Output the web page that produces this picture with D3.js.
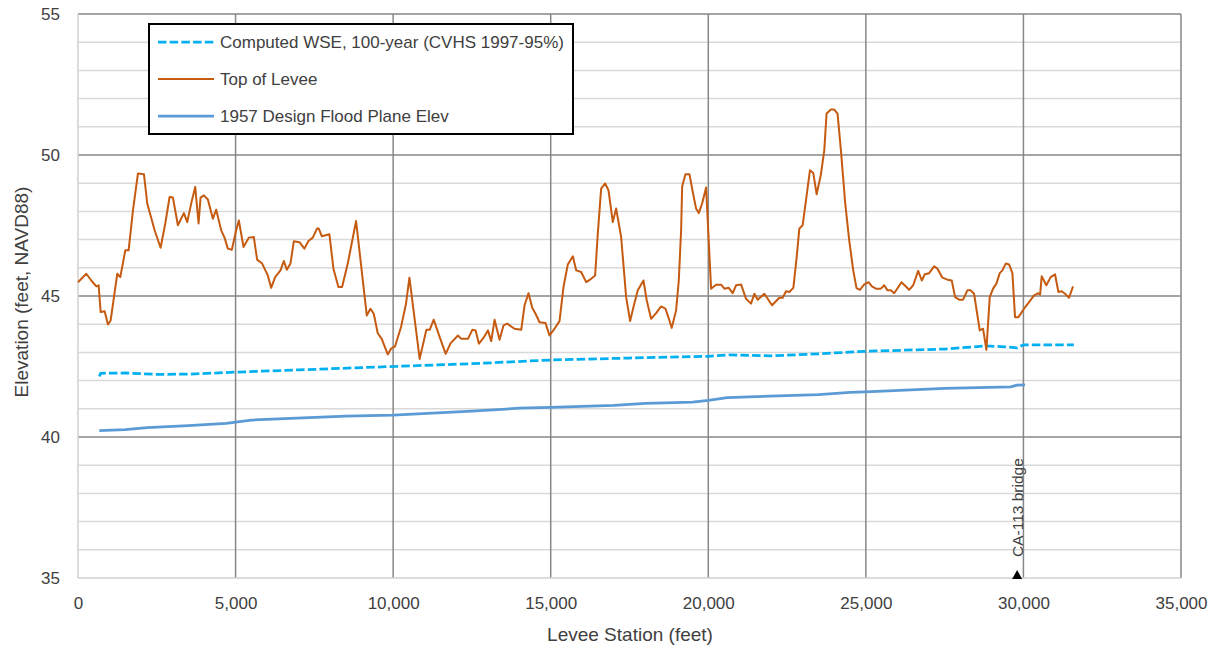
<!DOCTYPE html>
<html><head><meta charset="utf-8">
<script src="https://cdn.jsdelivr.net/npm/d3@7/dist/d3.min.js"></script>
<style>
html,body{margin:0;padding:0;background:#fff;}
svg{display:block;font-family:"Liberation Sans",Arial,sans-serif;}
</style></head>
<body><svg id="c" width="1217" height="649"></svg>
<script>
// ---- data ----
const levStation = [0,264,422,581,655,719,845,951,1035,1247,1342,1501,1606,1744,1902,2092,2198,2431,2621,2769,2906,3012,3170,3360,3466,3614,3720,3826,3889,3994,4121,4280,4385,4544,4650,4755,4882,5018,5104,5251,5421,5579,5684,5843,6023,6129,6256,6425,6531,6626,6742,6848,7027,7185,7312,7449,7586,7640,7735,7978,8105,8264,8380,8560,8824,9163,9279,9385,9511,9638,9828,9934,10060,10250,10409,10516,10842,11054,11160,11287,11477,11667,11825,12057,12163,12374,12512,12617,12722,12870,13007,13113,13219,13377,13504,13620,13853,14065,14170,14297,14413,14519,14645,14835,14962,15121,15279,15406,15543,15702,15808,15966,16125,16283,16410,16494,16600,16727,16833,16970,17077,17235,17394,17520,17626,17763,17943,18048,18186,18345,18503,18640,18767,18841,18979,19064,19138,19171,19275,19402,19508,19614,19698,19804,19931,20089,20248,20406,20512,20649,20776,20881,21040,21198,21357,21462,21568,21779,22023,22256,22361,22467,22572,22699,22805,22889,22994,23100,23227,23332,23438,23575,23681,23754,23891,23997,24102,24208,24346,24472,24599,24704,24811,24948,25085,25191,25318,25476,25582,25688,25794,25899,26131,26375,26502,26660,26776,26871,27008,27166,27272,27430,27589,27726,27832,27959,28085,28222,28328,28434,28614,28719,28825,28931,29037,29142,29248,29333,29439,29544,29650,29734,29840,30020,30178,30337,30473,30530,30580,30727,30865,31003,31109,31215,31320,31447,31574];
const levElev = [45.49,45.79,45.55,45.34,45.38,44.43,44.46,43.99,44.13,45.79,45.67,46.62,46.62,48.04,49.34,49.32,48.28,47.33,46.71,47.57,48.51,48.49,47.51,47.94,47.62,48.39,48.87,47.57,48.49,48.57,48.42,47.74,48.06,47.33,47.07,46.68,46.64,47.33,47.68,46.74,47.07,47.09,46.29,46.15,45.73,45.29,45.67,45.91,46.24,45.93,46.15,46.94,46.91,46.68,46.95,47.07,47.39,47.39,47.12,47.19,45.97,45.32,45.32,46.15,47.66,44.31,44.55,44.37,43.68,43.48,42.93,43.13,43.21,43.90,44.73,45.65,42.77,43.80,43.80,44.16,43.54,42.95,43.33,43.60,43.48,43.48,43.80,43.78,43.31,43.52,43.78,43.40,44.16,43.45,43.96,44.02,43.84,43.80,44.67,45.10,44.58,44.37,44.07,44.04,43.60,43.84,44.11,45.32,46.12,46.41,45.91,45.85,45.49,45.61,45.73,47.21,48.81,48.99,48.75,47.62,48.10,47.09,44.96,44.11,44.61,45.20,45.55,44.84,44.19,44.39,44.63,44.55,44.13,43.87,44.49,45.55,47.33,48.89,49.32,49.32,48.69,48.10,47.94,48.28,48.85,45.26,45.40,45.40,45.26,45.29,45.10,45.38,45.41,44.90,44.73,45.08,44.87,45.08,44.67,44.94,44.94,45.17,45.14,45.29,46.38,47.39,47.51,48.39,49.46,49.36,48.61,49.32,50.17,51.47,51.61,51.61,51.47,50.17,48.28,46.97,45.91,45.28,45.22,45.41,45.49,45.34,45.26,45.26,45.38,45.20,45.20,45.10,45.49,45.22,45.38,45.89,45.55,45.77,45.81,46.05,45.97,45.65,45.58,45.55,44.96,44.87,44.87,45.20,45.20,45.08,43.78,43.84,43.09,44.96,45.26,45.44,45.81,45.91,46.15,46.12,45.81,44.25,44.25,44.55,44.78,45.02,45.10,45.05,45.70,45.38,45.67,45.77,45.14,45.17,45.08,44.94,45.34];

const wseStation = [676,720,1500,2500,3500,5000,7000,10000,12500,15000,17500,20000,20600,22000,23500,25000,27500,28800,29400,29800,30000,31600];
const wseElev    = [42.15,42.26,42.27,42.22,42.23,42.30,42.38,42.50,42.60,42.73,42.80,42.86,42.91,42.88,42.95,43.04,43.12,43.23,43.20,43.16,43.27,43.27];

const designStation = [676,1500,2200,3500,4700,5500,8500,10000,12500,14000,15000,17000,18000,19500,20000,20600,23500,24500,25000,27500,29600,29800,30050];
const designElev    = [40.23,40.26,40.33,40.40,40.48,40.60,40.74,40.78,40.92,41.02,41.05,41.12,41.19,41.24,41.30,41.40,41.50,41.58,41.60,41.72,41.78,41.84,41.85];

const xTicks = [0,5000,10000,15000,20000,25000,30000,35000];
const yTicks = [35,40,45,50,55];
const yMinor = [36,37,38,39,41,42,43,44,46,47,48,49,51,52,53,54];

const seriesNames = ["Computed WSE, 100-year (CVHS 1997-95%)","Top of Levee","1957 Design Flood Plane Elev"];
const seriesColors = ["#00B0F0","#C55A11","#5B9BD5"];
const xTitle = "Levee Station (feet)";
const yTitle = "Elevation (feet, NAVD88)";
const annotLabel = "CA-113 bridge";
const annotStation = 29800;

// ---- chart ----
const L = 78, R = 1181, T = 14, B = 578;
const svg = d3.select("#c");
const x = d3.scaleLinear().domain([0,35000]).range([L,R]);
const y = d3.scaleLinear().domain([35,55]).range([B,T]);
const txtCol = "#404040";

// minor horizontal gridlines
svg.append("g").selectAll("line").data(yMinor).join("line")
  .attr("x1",L).attr("x2",R).attr("y1",d=>y(d)).attr("y2",d=>y(d))
  .attr("stroke","#D9D9D9").attr("stroke-width",1.5);
// major horizontal gridlines (not the bottom)
svg.append("g").selectAll("line").data(yTicks.filter(d=>d>35)).join("line")
  .attr("x1",L).attr("x2",R).attr("y1",d=>y(d)).attr("y2",d=>y(d))
  .attr("stroke","#878787").attr("stroke-width",1.5);
// major vertical gridlines (not left)
svg.append("g").selectAll("line").data(xTicks.filter(d=>d>0)).join("line")
  .attr("x1",d=>x(d)).attr("x2",d=>x(d)).attr("y1",T).attr("y2",B)
  .attr("stroke","#878787").attr("stroke-width",1.5);
// axis lines (light)
svg.append("line").attr("x1",L).attr("x2",L).attr("y1",T).attr("y2",B).attr("stroke","#D0D0D0").attr("stroke-width",1.5);
svg.append("line").attr("x1",L).attr("x2",R).attr("y1",B).attr("y2",B).attr("stroke","#D0D0D0").attr("stroke-width",1.5);

// axes (labels via d3 axes)
const fmt = d3.format(",");
const gx = svg.append("g").attr("transform",`translate(0,${B})`)
  .call(d3.axisBottom(x).tickValues(xTicks).tickFormat(d=>fmt(d)).tickSize(0).tickPadding(19));
const gy = svg.append("g").attr("transform",`translate(${L},0)`)
  .call(d3.axisLeft(y).tickValues(yTicks).tickFormat(d=>d).tickSize(0).tickPadding(18));
[gx,gy].forEach(g=>{
  g.select(".domain").remove();
  g.selectAll("text").attr("fill",txtCol).attr("font-size","17px").attr("font-family","Liberation Sans, Arial, sans-serif");
});

// series
const line = d3.line().x(d=>x(d[0])).y(d=>y(d[1]));
const wse = d3.zip(wseStation, wseElev);
const lev = d3.zip(levStation, levElev);
const des = d3.zip(designStation, designElev);

svg.append("path").datum(wse).attr("d",line).attr("fill","none")
  .attr("stroke",seriesColors[0]).attr("stroke-width",2.75).attr("stroke-dasharray","8.5,3.2");
svg.append("path").datum(lev).attr("d",line).attr("fill","none")
  .attr("stroke",seriesColors[1]).attr("stroke-width",2).attr("stroke-linejoin","round");
svg.append("path").datum(des).attr("d",line).attr("fill","none")
  .attr("stroke",seriesColors[2]).attr("stroke-width",2.75).attr("stroke-linejoin","round");

// annotation
const ax = x(annotStation);
svg.append("path").attr("d",`M${ax-5},${B+1}L${ax+5},${B+1}L${ax},${B-8}Z`).attr("fill","#000");
svg.append("text").attr("transform",`translate(${ax+6},${B-21}) rotate(-90)`)
  .attr("font-size","15.5px").attr("fill",txtCol).text(annotLabel);

// titles
svg.append("text").attr("x",630).attr("y",641).attr("text-anchor","middle")
  .attr("font-size","19px").attr("fill",txtCol).text(xTitle);
svg.append("text").attr("transform","translate(28,292) rotate(-90)").attr("text-anchor","middle")
  .attr("font-size","19px").attr("fill",txtCol).text(yTitle);

// legend
const lg = svg.append("g");
lg.append("rect").attr("x",149).attr("y",24).attr("width",424).attr("height",110)
  .attr("fill","#fff").attr("stroke","#000").attr("stroke-width",2);
const ly = [42,79,116];
seriesNames.forEach((n,i)=>{
  const l = lg.append("line").attr("x1",158).attr("x2",214).attr("y1",ly[i]).attr("y2",ly[i])
    .attr("stroke",seriesColors[i]).attr("stroke-width",i===1?2:2.75);
  if(i===0) l.attr("stroke-dasharray","8.5,3.2");
  lg.append("text").attr("x",220).attr("y",ly[i]).attr("dy","0.35em")
    .attr("font-size","17px").attr("fill",txtCol).text(n);
});
</script></body></html>
